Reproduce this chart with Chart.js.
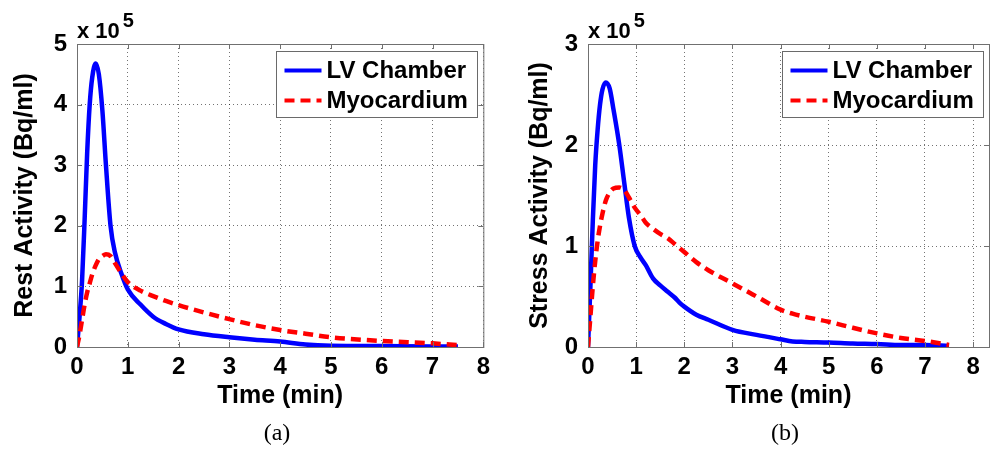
<!DOCTYPE html>
<html>
<head>
<meta charset="utf-8">
<script src="https://cdn.jsdelivr.net/npm/chart.js@4.4.0/dist/chart.umd.min.js"></script>
<style>
  html, body { margin: 0; padding: 0; background: #fff; overflow: hidden; }
  #wrap { position: relative; width: 992px; height: 449px; overflow: hidden; }
  canvas { position: absolute; top: 0; }
  #restChart { left: 0; }
  #stressChart { left: 496px; }
  .caption { position: absolute; top: 419px; line-height: 26px; font-size: 24px;
             font-family: 'Liberation Serif', 'DejaVu Serif', serif; transform: translateX(-50%); }
</style>
</head>
<body>
<div id="wrap">
  <canvas id="restChart" width="496" height="449"></canvas>
  <canvas id="stressChart" width="520" height="449"></canvas>
  <div class="caption" style="left: 277px;">(a)</div>
  <div class="caption" style="left: 785px;">(b)</div>
</div>
<script>
// values are in units of 10^5 Bq/ml, time in minutes
const restTime = [0, 0.05, 0.1, 0.15, 0.2, 0.25, 0.3, 0.37, 0.43, 0.5, 0.57, 0.66, 0.75, 0.87, 1, 1.25, 1.5, 1.75, 2, 2.5, 3, 3.5, 4, 4.5, 5, 6, 7, 7.5];
const restLV = [0, 0.5, 1.1, 2.1, 3.2, 4.0, 4.45, 4.68, 4.5, 3.9, 3.0, 2.0, 1.55, 1.22, 0.95, 0.7, 0.5, 0.38, 0.29, 0.21, 0.16, 0.12, 0.09, 0.04, 0.02, 0.015, 0.01, 0.01];
const restMyo = [0, 0.2, 0.45, 0.7, 0.9, 1.05, 1.2, 1.35, 1.45, 1.5, 1.53, 1.5, 1.38, 1.22, 1.07, 0.93, 0.84, 0.76, 0.69, 0.57, 0.46, 0.36, 0.28, 0.22, 0.16, 0.1, 0.06, 0.03];

const stressTime = [0, 0.05, 0.1, 0.15, 0.2, 0.25, 0.3, 0.37, 0.45, 0.53, 0.65, 0.76, 0.85, 0.97, 1.1, 1.2, 1.35, 1.5, 1.65, 1.8, 1.9, 2, 2.25, 2.5, 3, 3.5, 4, 4.25, 4.5, 5, 5.5, 6, 6.5, 7, 7.5];
const stressLV = [0, 0.6, 1.25, 1.8, 2.15, 2.4, 2.55, 2.62, 2.56, 2.35, 2.0, 1.6, 1.28, 1.0, 0.88, 0.81, 0.68, 0.61, 0.55, 0.49, 0.44, 0.4, 0.32, 0.27, 0.17, 0.12, 0.076, 0.055, 0.05, 0.045, 0.035, 0.03, 0.02, 0.02, 0.01];
const stressMyo = [0, 0.3, 0.6, 0.85, 1.05, 1.2, 1.32, 1.45, 1.53, 1.57, 1.58, 1.55, 1.48, 1.38, 1.3, 1.23, 1.17, 1.12, 1.08, 1.02, 0.98, 0.94, 0.84, 0.76, 0.63, 0.5, 0.37, 0.33, 0.3, 0.25, 0.19, 0.135, 0.09, 0.06, 0.02];

const xTicks = [0, 1, 2, 3, 4, 5, 6, 7, 8];
const restYTicks = [0, 1, 2, 3, 4, 5];
const stressYTicks = [0, 1, 2, 3];
const seriesNames = ['LV Chamber', 'Myocardium'];

const FONT = "'Liberation Sans', Arial, Helvetica, sans-serif";
Chart.defaults.font.family = FONT;

function points(t, v) {
    return t.map((x, i) => ({ x: x, y: v[i] }));
}

// MATLAB style box, inward ticks, x10^5 label and legend
const matlabAxes = {
    id: 'matlabAxes',
    afterDatasetsDraw(chart) {
        const { ctx, chartArea: a, scales } = chart;
        ctx.save();
        ctx.strokeStyle = '#707070';
        ctx.lineWidth = 1;
        ctx.strokeRect(a.left + 0.5, a.top + 0.5, a.right - a.left, a.bottom - a.top);
        ctx.beginPath();
        scales.x.ticks.forEach(t => {
            const px = Math.round(scales.x.getPixelForValue(t.value)) + 0.5;
            ctx.moveTo(px, a.bottom); ctx.lineTo(px, a.bottom - 5);
            ctx.moveTo(px, a.top); ctx.lineTo(px, a.top + 5);
        });
        scales.y.ticks.forEach(t => {
            const py = Math.round(scales.y.getPixelForValue(t.value)) + 0.5;
            ctx.moveTo(a.left, py); ctx.lineTo(a.left + 5, py);
            ctx.moveTo(a.right, py); ctx.lineTo(a.right - 5, py);
        });
        ctx.stroke();
        ctx.restore();
    },
    afterDraw(chart) {
        const { ctx, chartArea: a } = chart;
        ctx.save();
        // exponent label
        ctx.fillStyle = '#000';
        ctx.textBaseline = 'alphabetic';
        ctx.font = 'bold 22px ' + FONT;
        ctx.fillText('x 10', a.left, a.top - 6);
        const w = ctx.measureText('x 10').width;
        ctx.font = 'bold 20px ' + FONT;
        ctx.fillText('5', a.left + w + 3, a.top - 17);

        // legend
        const bw = 201, bh = 66;
        const x0 = Math.round(a.right - 6 - bw) + 0.5, y0 = Math.round(a.top + 7) + 0.5;
        ctx.fillStyle = '#fff';
        ctx.fillRect(x0, y0, bw, bh);
        ctx.strokeStyle = '#6a6a6a';
        ctx.lineWidth = 1;
        ctx.strokeRect(x0, y0, bw, bh);
        chart.data.datasets.forEach((ds, i) => {
            const cy = y0 + 19 + i * 30;
            ctx.strokeStyle = ds.borderColor;
            ctx.lineWidth = 4;
            ctx.setLineDash(ds.borderDash || []);
            ctx.beginPath();
            ctx.moveTo(x0 + 8, cy);
            ctx.lineTo(x0 + 45, cy);
            ctx.stroke();
            ctx.setLineDash([]);
            ctx.fillStyle = '#000';
            ctx.font = 'bold 24px ' + FONT;
            ctx.textBaseline = 'middle';
            ctx.fillText(ds.label, x0 + 50, cy + 1);
        });
        ctx.restore();
    }
};

function makeChart(id, cfg) {
    const ctx = document.getElementById(id).getContext('2d');
    return new Chart(ctx, {
        type: 'line',
        data: {
            datasets: [{
                label: seriesNames[0],
                data: points(cfg.time, cfg.lv),
                borderColor: '#0000ff',
                borderWidth: 4.5,
                pointRadius: 0,
                cubicInterpolationMode: 'monotone',
                order: 1
            }, {
                label: seriesNames[1],
                data: points(cfg.time, cfg.myo),
                borderColor: '#ff0000',
                borderWidth: 4.5,
                borderDash: [10, 6],
                pointRadius: 0,
                cubicInterpolationMode: 'monotone',
                order: 0
            }]
        },
        options: {
            responsive: false,
            animation: false,
            layout: { padding: { left: 0, top: 44, right: cfg.padRight, bottom: 0 } },
            plugins: { legend: { display: false }, tooltip: { enabled: false } },
            scales: {
                x: {
                    type: 'linear',
                    min: 0,
                    max: cfg.xMax,
                    afterBuildTicks: s => { s.ticks = xTicks.map(v => ({ value: v })); },
                    afterFit: s => { s.height = 102; },
                    grid: { color: 'rgba(0,0,0,0.55)', drawTicks: false },
                    border: { display: false, dash: [1, 3] },
                    ticks: {
                        color: '#000', padding: 6, maxRotation: 0, autoSkip: false,
                        font: { size: 24, weight: 'bold' }
                    },
                    title: {
                        display: true, text: 'Time (min)', color: '#000',
                        font: { size: 25, weight: 'bold' }, padding: { top: 0, bottom: 38 }
                    }
                },
                y: {
                    min: 0,
                    max: cfg.yMax,
                    afterBuildTicks: s => { s.ticks = cfg.yTicks.map(v => ({ value: v })); },
                    afterFit: s => { s.width = cfg.yWidth; },
                    grid: { color: 'rgba(0,0,0,0.55)', drawTicks: false },
                    border: { display: false, dash: [1, 3] },
                    ticks: {
                        color: '#000', padding: 10,
                        font: { size: 24, weight: 'bold' }
                    },
                    title: {
                        display: true, text: cfg.yTitle, color: '#000',
                        font: { size: 25, weight: 'bold' }, padding: { top: cfg.titlePad, bottom: 0 }
                    }
                }
            }
        },
        plugins: [matlabAxes]
    });
}

makeChart('restChart', {
    time: restTime, lv: restLV, myo: restMyo,
    xMax: 8, yMax: 5, yTicks: restYTicks,
    yTitle: 'Rest Activity (Bq/ml)', yWidth: 77, padRight: 9, titlePad: 10
});

makeChart('stressChart', {
    time: stressTime, lv: stressLV, myo: stressMyo,
    xMax: 8.33, yMax: 3, yTicks: stressYTicks,
    yTitle: 'Stress Activity (Bq/ml)', yWidth: 92, padRight: 27, titlePad: 29
});
</script>
</body>
</html>
